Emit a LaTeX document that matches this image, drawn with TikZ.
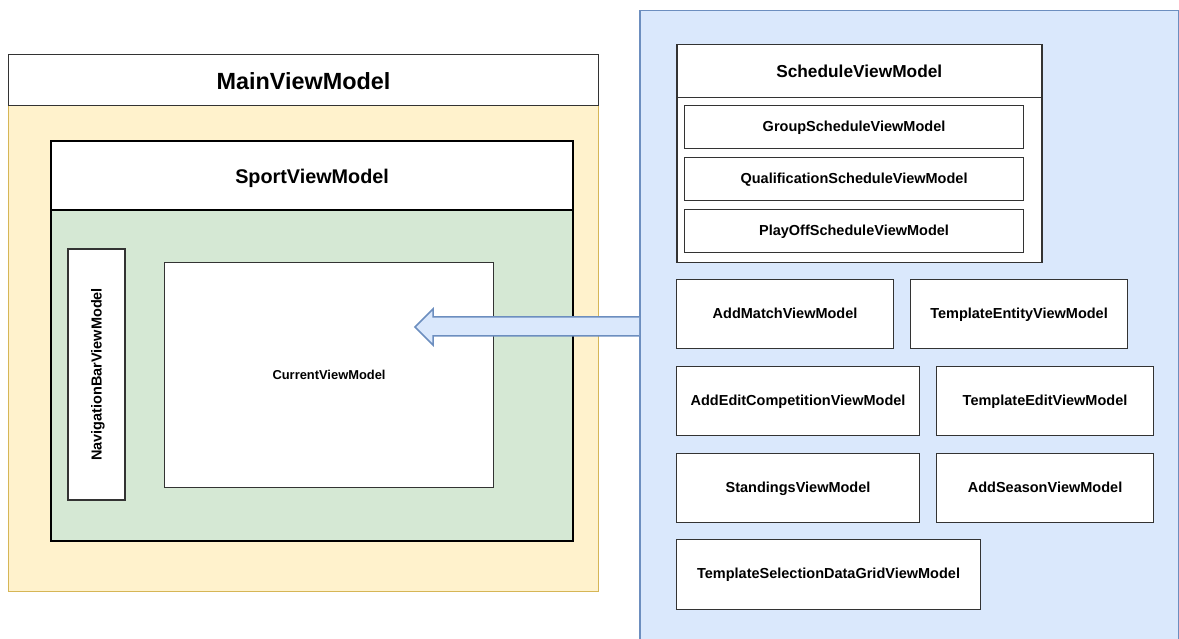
\documentclass[tikz,border=0pt]{standalone}
\usepackage{fontspec}
\setmainfont{Liberation Sans}
\definecolor{mainfill}{HTML}{FFF2CC}
\definecolor{mainline}{HTML}{D6B656}
\definecolor{sportfill}{HTML}{D5E8D4}
\definecolor{panelfill}{HTML}{DAE8FC}
\definecolor{panelline}{HTML}{6C8EBF}
\definecolor{boxline}{HTML}{333333}
\tikzset{
  % fixed line box so labels with and without descenders sit at the same height
  linebox/.style={text height=#1, text depth=0pt},
  plainbox/.style={rectangle, draw=boxline, fill=white, line width=1.1pt,
    inner sep=0pt, anchor=north west, text=black, linebox=8.2pt,
    font=\fontsize{14.5}{17}\selectfont\bfseries},
  headbox/.style={rectangle, fill=white, inner sep=0pt, anchor=north west, text=black},
  sportline/.style={draw=black, line width=2.2pt},
}
\begin{document}
\begin{tikzpicture}[x=1pt,y=-1pt]
\useasboundingbox (0,0) rectangle (1179,639);
\fill[white] (0,0) rectangle (1179,639);

% ---- MainViewModel container ----
\node[headbox, draw=mainline, fill=mainfill, line width=1pt,
      minimum width=590, minimum height=486] (mainbody) at (8,105) {};
\node[headbox, draw=boxline, line width=1pt, minimum width=590, minimum height=51,
      linebox=19.8pt, font=\fontsize{23.4}{28}\selectfont\bfseries] (mainhead) at (8,54) {MainViewModel};

% ---- SportViewModel container ----
\node[headbox, sportline, fill=sportfill, minimum width=522, minimum height=331] (sportbody) at (50,209) {};
\node[headbox, sportline, minimum width=522, minimum height=69,
      linebox=16.2pt, font=\fontsize{19.8}{24}\selectfont\bfseries] (sporthead) at (50,140) {SportViewModel};

\node[plainbox, anchor=center, rotate=90, minimum width=251, minimum height=57,
      linebox=10.4pt] (nav) at (96.5,374.5) {NavigationBarViewModel};
\node[plainbox, minimum width=329, minimum height=225,
      linebox=9.2pt, font=\fontsize{12.9}{15}\selectfont\bfseries] (current) at (164,262) {CurrentViewModel};

% ---- right-hand panel ----
\node[headbox, fill=panelfill, draw=panelline, line width=1.5pt,
      minimum width=539, minimum height=660] (panel) at (639,10) {};

% block arrow from the panel into the current view model
\coordinate (tail) at (panel.west |- 0,326.5);
\coordinate (tip) at (415,327);
\fill[panelfill] (tail |- 0,317) -- (433,317) -- (433,309) -- (tip) -- (433,345) -- (433,336) -- (tail |- 0,336) -- cycle;
\draw[panelline, line width=1.5pt, line join=miter]
  (tail |- 0,317) -- (433,317) -- (433,309) -- (tip) -- (433,345) -- (433,336) -- (tail |- 0,336);

% ---- ScheduleViewModel ----
\node[plainbox, line width=1.5pt, minimum width=365, minimum height=165] (schedbody) at (676,97) {};
\node[plainbox, line width=1.5pt, minimum width=365, minimum height=53,
      linebox=13.4pt, font=\fontsize{17.3}{21}\selectfont\bfseries] (schedhead) at (676,44) {ScheduleViewModel};
\node[plainbox, minimum width=339, minimum height=43] (group) at (684,105) {GroupScheduleViewModel};
\node[plainbox, minimum width=339, minimum height=43] (qual) at (684,157) {QualificationScheduleViewModel};
\node[plainbox, minimum width=339, minimum height=43] (playoff) at (684,209) {PlayOffScheduleViewModel};

% ---- other view models ----
\node[plainbox, minimum width=217, minimum height=69] (addmatch) at (676,279) {AddMatchViewModel};
\node[plainbox, minimum width=217, minimum height=69] (tplentity) at (910,279) {TemplateEntityViewModel};
\node[plainbox, minimum width=243, minimum height=69] (addcomp) at (676,366) {AddEditCompetitionViewModel};
\node[plainbox, minimum width=217, minimum height=69] (tpledit) at (936,366) {TemplateEditViewModel};
\node[plainbox, minimum width=243, minimum height=69] (standings) at (676,453) {StandingsViewModel};
\node[plainbox, minimum width=217, minimum height=69] (addseason) at (936,453) {AddSeasonViewModel};
\node[plainbox, minimum width=304, minimum height=70] (tplselect) at (676,539) {TemplateSelectionDataGridViewModel};
\end{tikzpicture}
\end{document}
